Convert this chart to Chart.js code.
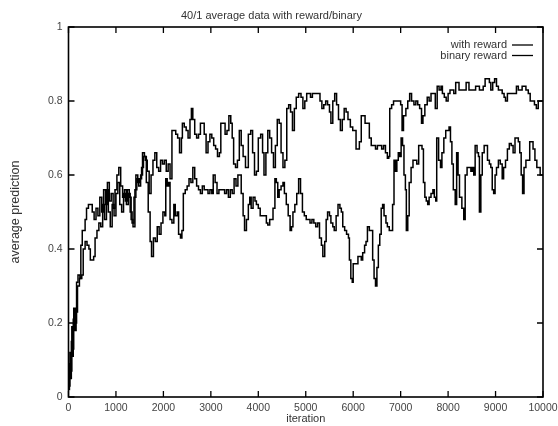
<!DOCTYPE html>
<html><head><meta charset="utf-8">
<script src="https://cdn.jsdelivr.net/npm/chart.js@4"></script>
<style>html,body{margin:0;padding:0;background:#fff}#wrap{width:558px;height:426px}</style>
</head><body><div id="wrap"><canvas id="c" width="558" height="426"></canvas></div>
<script>
const titleText = '40/1 average data with reward/binary';
const xTitle = 'iteration';
const yTitle = 'average prediction';
const seriesLabels = ['with reward', 'binary reward'];
const xTicks = [0,1000,2000,3000,4000,5000,6000,7000,8000,9000,10000];
const yTicks = [0,0.2,0.4,0.6,0.8,1];

const withReward = [[0,0.02],[20,0.09],[40,0.05],[60,0.15],[80,0.11],[100,0.21],[130,0.18],[160,0.23],[190,0.30],[230,0.32],[260,0.41],[290,0.45],[320,0.45],[350,0.48],[380,0.51],[420,0.52],[460,0.52],[500,0.50],[540,0.48],[580,0.51],[620,0.49],[660,0.54],[700,0.50],[740,0.56],[780,0.52],[820,0.58],[860,0.53],[900,0.55],[940,0.51],[980,0.56],[1020,0.60],[1060,0.62],[1100,0.57],[1140,0.54],[1180,0.56],[1220,0.52],[1260,0.55],[1300,0.50],[1340,0.47],[1380,0.54],[1420,0.60],[1460,0.58],[1500,0.59],[1540,0.62],[1580,0.65],[1620,0.64],[1660,0.61],[1700,0.55],[1740,0.60],[1780,0.64],[1820,0.66],[1860,0.62],[1900,0.61],[1940,0.64],[1980,0.63],[2020,0.64],[2060,0.61],[2100,0.63],[2140,0.59],[2180,0.72],[2220,0.72],[2260,0.71],[2300,0.70],[2340,0.66],[2380,0.70],[2400,0.74],[2440,0.73],[2480,0.72],[2520,0.70],[2560,0.75],[2590,0.78],[2620,0.75],[2660,0.71],[2700,0.70],[2740,0.71],[2780,0.74],[2820,0.74],[2860,0.71],[2900,0.66],[2940,0.69],[2980,0.71],[3020,0.70],[3060,0.68],[3100,0.67],[3140,0.65],[3180,0.66],[3210,0.74],[3260,0.74],[3300,0.71],[3340,0.72],[3380,0.76],[3420,0.74],[3450,0.70],[3480,0.63],[3520,0.62],[3560,0.64],[3600,0.72],[3640,0.68],[3680,0.65],[3730,0.62],[3790,0.71],[3840,0.72],[3880,0.66],[3920,0.60],[3960,0.61],[4000,0.70],[4050,0.71],[4090,0.66],[4120,0.60],[4160,0.66],[4200,0.72],[4240,0.70],[4280,0.66],[4320,0.62],[4360,0.68],[4400,0.75],[4440,0.74],[4480,0.66],[4520,0.62],[4560,0.64],[4600,0.78],[4640,0.79],[4680,0.77],[4720,0.72],[4760,0.78],[4800,0.81],[4850,0.82],[4900,0.81],[4940,0.78],[4980,0.80],[5020,0.82],[5060,0.82],[5100,0.81],[5140,0.82],[5200,0.82],[5260,0.82],[5300,0.80],[5340,0.78],[5380,0.79],[5420,0.80],[5460,0.79],[5500,0.77],[5530,0.74],[5570,0.80],[5610,0.82],[5650,0.79],[5690,0.75],[5730,0.72],[5770,0.75],[5810,0.78],[5850,0.77],[5890,0.75],[5940,0.73],[5990,0.72],[6030,0.72],[6060,0.67],[6090,0.67],[6130,0.69],[6170,0.76],[6210,0.76],[6250,0.74],[6300,0.74],[6340,0.70],[6380,0.68],[6420,0.68],[6470,0.67],[6510,0.68],[6560,0.68],[6600,0.67],[6640,0.68],[6680,0.66],[6720,0.645],[6750,0.65],[6770,0.78],[6810,0.79],[6850,0.80],[6900,0.80],[6950,0.80],[7000,0.79],[7030,0.72],[7060,0.76],[7110,0.78],[7150,0.80],[7190,0.82],[7230,0.80],[7280,0.79],[7320,0.80],[7360,0.79],[7400,0.78],[7440,0.74],[7470,0.76],[7510,0.79],[7560,0.81],[7600,0.80],[7640,0.82],[7690,0.82],[7730,0.78],[7770,0.84],[7810,0.83],[7850,0.84],[7880,0.82],[7920,0.81],[7960,0.80],[8000,0.82],[8040,0.83],[8080,0.83],[8120,0.82],[8160,0.85],[8200,0.85],[8230,0.83],[8270,0.83],[8310,0.83],[8350,0.83],[8380,0.85],[8410,0.85],[8440,0.83],[8480,0.83],[8540,0.83],[8580,0.84],[8620,0.84],[8660,0.83],[8700,0.83],[8740,0.84],[8780,0.86],[8830,0.86],[8870,0.85],[8900,0.83],[8940,0.85],[8980,0.86],[9020,0.84],[9060,0.83],[9100,0.83],[9140,0.82],[9180,0.81],[9210,0.80],[9250,0.82],[9300,0.82],[9350,0.82],[9400,0.82],[9440,0.84],[9480,0.83],[9520,0.83],[9560,0.84],[9600,0.84],[9640,0.83],[9690,0.82],[9730,0.80],[9780,0.80],[9820,0.79],[9860,0.78],[9900,0.80],[9950,0.80],[10000,0.80]];

const binaryReward = [[0,0.03],[30,0.12],[50,0.07],[70,0.19],[90,0.13],[110,0.24],[140,0.20],[170,0.31],[200,0.33],[240,0.32],[280,0.33],[310,0.40],[350,0.42],[390,0.41],[430,0.40],[460,0.37],[500,0.37],[530,0.38],[560,0.43],[600,0.45],[640,0.47],[680,0.46],[720,0.52],[760,0.48],[800,0.56],[840,0.50],[880,0.46],[920,0.52],[960,0.49],[1000,0.55],[1040,0.58],[1080,0.52],[1120,0.50],[1160,0.55],[1200,0.53],[1240,0.56],[1280,0.54],[1320,0.48],[1360,0.46],[1400,0.56],[1440,0.59],[1480,0.57],[1520,0.60],[1560,0.66],[1600,0.65],[1640,0.58],[1680,0.50],[1720,0.42],[1750,0.38],[1790,0.43],[1830,0.42],[1870,0.46],[1910,0.44],[1950,0.47],[1990,0.50],[2030,0.49],[2050,0.59],[2080,0.57],[2110,0.58],[2140,0.48],[2180,0.47],[2220,0.52],[2250,0.49],[2290,0.50],[2320,0.44],[2360,0.43],[2390,0.45],[2420,0.55],[2460,0.56],[2500,0.57],[2540,0.59],[2580,0.58],[2620,0.62],[2660,0.59],[2700,0.57],[2740,0.56],[2780,0.55],[2820,0.57],[2860,0.56],[2900,0.56],[2940,0.55],[2980,0.56],[3020,0.55],[3050,0.60],[3090,0.58],[3130,0.55],[3170,0.56],[3210,0.56],[3250,0.56],[3290,0.55],[3330,0.56],[3370,0.54],[3410,0.56],[3450,0.55],[3490,0.59],[3530,0.57],[3570,0.60],[3610,0.60],[3640,0.55],[3680,0.49],[3710,0.45],[3750,0.48],[3790,0.52],[3820,0.54],[3850,0.51],[3890,0.54],[3930,0.53],[3960,0.52],[4000,0.51],[4040,0.49],[4080,0.49],[4120,0.49],[4170,0.47],[4200,0.465],[4240,0.48],[4280,0.48],[4310,0.51],[4350,0.59],[4380,0.58],[4410,0.54],[4440,0.56],[4480,0.57],[4520,0.58],[4550,0.55],[4590,0.52],[4630,0.49],[4670,0.45],[4700,0.46],[4730,0.50],[4770,0.52],[4810,0.55],[4850,0.59],[4890,0.55],[4930,0.50],[4970,0.49],[5010,0.48],[5050,0.48],[5090,0.47],[5130,0.48],[5170,0.47],[5210,0.46],[5250,0.47],[5290,0.43],[5330,0.41],[5360,0.38],[5400,0.42],[5430,0.48],[5460,0.50],[5500,0.49],[5530,0.47],[5570,0.46],[5600,0.45],[5640,0.49],[5680,0.52],[5720,0.51],[5750,0.50],[5780,0.46],[5820,0.45],[5860,0.44],[5900,0.43],[5920,0.37],[5950,0.32],[5980,0.31],[6000,0.36],[6040,0.36],[6070,0.36],[6100,0.38],[6140,0.38],[6170,0.37],[6200,0.39],[6240,0.41],[6270,0.42],[6300,0.46],[6340,0.45],[6380,0.45],[6410,0.37],[6440,0.32],[6470,0.30],[6500,0.35],[6530,0.41],[6560,0.44],[6590,0.51],[6620,0.52],[6650,0.49],[6690,0.47],[6720,0.46],[6760,0.45],[6800,0.45],[6830,0.52],[6860,0.64],[6890,0.61],[6920,0.64],[6950,0.66],[6980,0.65],[7010,0.70],[7040,0.68],[7070,0.60],[7100,0.56],[7120,0.45],[7150,0.49],[7180,0.58],[7220,0.62],[7260,0.64],[7300,0.64],[7340,0.63],[7380,0.68],[7420,0.68],[7450,0.67],[7480,0.58],[7510,0.54],[7540,0.53],[7570,0.52],[7600,0.54],[7640,0.55],[7680,0.56],[7710,0.54],[7740,0.53],[7760,0.70],[7800,0.64],[7840,0.62],[7870,0.66],[7910,0.70],[7950,0.72],[7990,0.72],[8020,0.73],[8050,0.69],[8080,0.63],[8110,0.56],[8150,0.52],[8180,0.66],[8210,0.60],[8240,0.54],[8290,0.51],[8330,0.48],[8360,0.60],[8400,0.62],[8440,0.62],[8480,0.61],[8510,0.62],[8540,0.60],[8570,0.68],[8610,0.66],[8640,0.65],[8660,0.50],[8690,0.60],[8720,0.66],[8760,0.68],[8790,0.68],[8830,0.64],[8870,0.63],[8900,0.62],[8930,0.56],[8960,0.55],[8990,0.60],[9020,0.62],[9060,0.64],[9100,0.63],[9140,0.59],[9170,0.62],[9210,0.64],[9250,0.67],[9290,0.685],[9330,0.68],[9370,0.66],[9410,0.70],[9450,0.70],[9480,0.69],[9510,0.66],[9540,0.60],[9570,0.55],[9600,0.62],[9640,0.64],[9680,0.64],[9720,0.69],[9760,0.69],[9790,0.67],[9830,0.64],[9870,0.62],[9900,0.62],[9940,0.60],[10000,0.60]];

const FONT = "'Liberation Sans', Arial, Helvetica, sans-serif";

const framePlugin = {
  id: 'frame',
  afterDraw(chart) {
    const {ctx, chartArea: a, scales: {x, y}} = chart;
    ctx.save();
    ctx.strokeStyle = '#000';
    ctx.lineWidth = 1.6;
    ctx.strokeRect(a.left, a.top, a.right - a.left, a.bottom - a.top);
    ctx.lineWidth = 1.3;
    const tl = 6;
    ctx.beginPath();
    x.ticks.forEach(t => {
      const px = x.getPixelForValue(t.value);
      ctx.moveTo(px, a.bottom); ctx.lineTo(px, a.bottom - tl);
      ctx.moveTo(px, a.top); ctx.lineTo(px, a.top + tl);
    });
    y.ticks.forEach(t => {
      const py = y.getPixelForValue(t.value);
      ctx.moveTo(a.left, py); ctx.lineTo(a.left + tl, py);
      ctx.moveTo(a.right, py); ctx.lineTo(a.right - tl, py);
    });
    ctx.stroke();
    // legend (top right, inside plot)
    ctx.font = '11px ' + FONT;
    ctx.fillStyle = '#333';
    ctx.textAlign = 'right';
    ctx.textBaseline = 'middle';
    chart.data.datasets.forEach((ds, i) => {
      const ly = a.top + 18 + i * 10.5;
      const tx = a.right - 36;
      ctx.fillText(ds.label, tx, ly);
      ctx.strokeStyle = ds.borderColor;
      ctx.lineWidth = 1.3;
      ctx.beginPath();
      ctx.moveTo(tx + 5, ly); ctx.lineTo(tx + 26, ly);
      ctx.stroke();
    });
    ctx.restore();
  }
};

const toPts = arr => arr.map(p => ({x: p[0], y: p[1]}));

new Chart(document.getElementById('c'), {
  type: 'line',
  data: {
    datasets: [
      {label: seriesLabels[0], data: toPts(withReward), borderColor: '#000', borderWidth: 1.5, pointRadius: 0, stepped: true, fill: false},
      {label: seriesLabels[1], data: toPts(binaryReward), borderColor: '#000', borderWidth: 1.5, pointRadius: 0, stepped: true, fill: false}
    ]
  },
  options: {
    responsive: false,
    animation: false,
    devicePixelRatio: 1,
    layout: {padding: {left: 0, right: 15, top: 0, bottom: 0}},
    plugins: {
      legend: {display: false},
      tooltip: {enabled: false},
      title: {display: true, text: titleText, color: '#333', font: {family: FONT, size: 11, weight: 'normal'}, padding: {top: 9.5, bottom: 4.3}}
    },
    scales: {
      x: {
        type: 'linear', min: 0, max: 10000,
        afterBuildTicks: s => { s.ticks = xTicks.map(v => ({value: v})); },
        ticks: {color: '#444', font: {family: FONT, size: 10.5}, padding: 5, maxRotation: 0, autoSkip: false, callback: v => String(v)},
        grid: {display: false, drawTicks: false},
        border: {display: false},
        title: {display: true, text: xTitle, color: '#333', font: {family: FONT, size: 11}, padding: {top: 0, bottom: 0}},
        afterFit: s => { s.height = 29; s.paddingLeft = 0; s.paddingRight = 0; }
      },
      y: {
        type: 'linear', min: 0, max: 1,
        afterBuildTicks: s => { s.ticks = yTicks.map(v => ({value: v})); },
        ticks: {color: '#444', font: {family: FONT, size: 10.5}, padding: 6, callback: v => String(v)},
        grid: {display: false, drawTicks: false},
        border: {display: false},
        title: {display: true, text: yTitle, color: '#333', font: {family: FONT, size: 12.5}, padding: {top: 8, bottom: 0}},
        afterFit: s => { s.width = 68.5; s.paddingTop = 0; s.paddingBottom = 0; }
      }
    }
  },
  plugins: [framePlugin]
});
</script>
</body></html>
